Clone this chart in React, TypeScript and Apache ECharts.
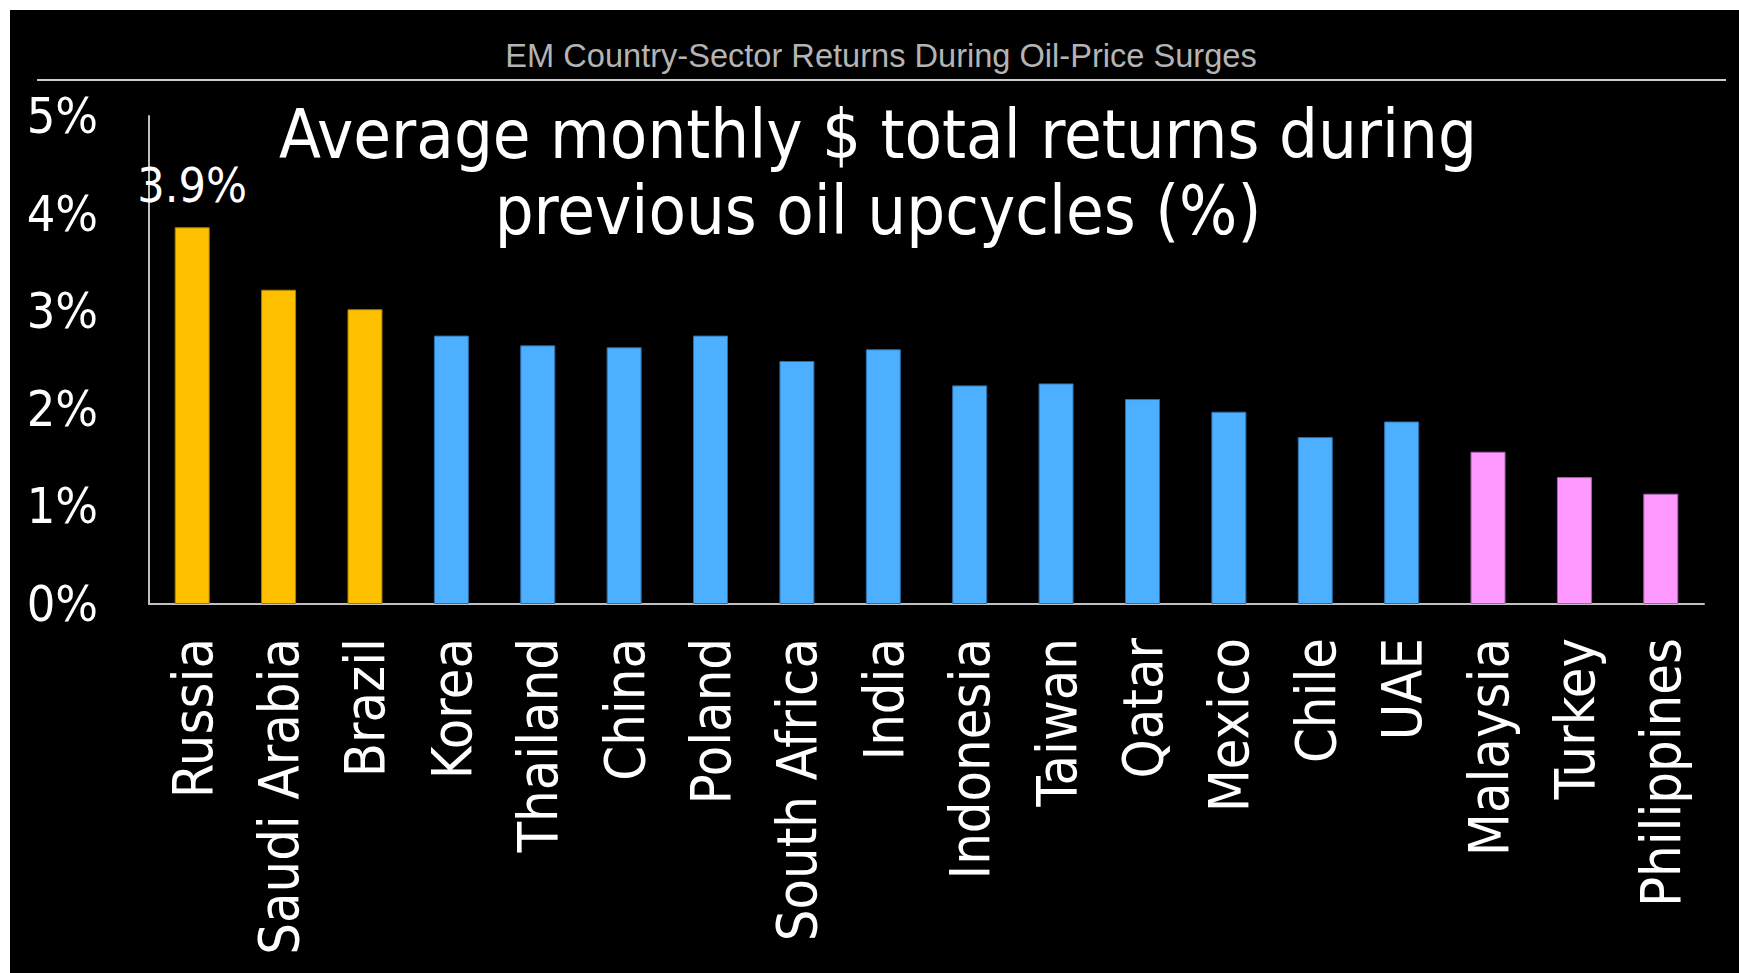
import React, { useEffect, useRef } from "react";
import * as echarts from "echarts";

const categories = [
  "Russia", "Saudi Arabia", "Brazil", "Korea", "Thailand", "China", "Poland",
  "South Africa", "India", "Indonesia", "Taiwan", "Qatar", "Mexico", "Chile",
  "UAE", "Malaysia", "Turkey", "Philippines",
];
const returnsPct = [
  3.86, 3.22, 3.02, 2.75, 2.65, 2.63, 2.75, 2.49, 2.61, 2.24, 2.26, 2.1, 1.97,
  1.71, 1.87, 1.56, 1.3, 1.13,
];
const groups = [
  "top", "top", "top", "mid", "mid", "mid", "mid", "mid", "mid", "mid", "mid",
  "mid", "mid", "mid", "mid", "low", "low", "low",
];
const labelledCategories = ["Russia"];
const yTicks = [0, 1, 2, 3, 4, 5];

const headerText = "EM Country-Sector Returns During Oil-Price Surges";
const titleLines = ["Average monthly $ total returns during", "previous oil upcycles (%)"];

const groupFill: Record<string, string> = { top: "#FFC000", mid: "#4DAFFF", low: "#FF99FF" };
const groupEdge: Record<string, string> = { top: "#A87E00", mid: "#2E6FA8", low: "#A862A8" };

const FONT = "'DejaVu Sans Condensed', 'DejaVu Sans', sans-serif";

export default function App() {
  const ref = useRef<HTMLDivElement>(null);
  useEffect(() => {
    if (!ref.current) return;
    const chart = echarts.init(ref.current, undefined, { renderer: "svg" });
    const data = returnsPct.map((v, i) => ({
      value: v,
      itemStyle: {
        color: groupFill[groups[i]],
        borderColor: groupEdge[groups[i]],
        borderWidth: 1,
      },
      label: labelledCategories.includes(categories[i])
        ? {
            show: true,
            position: "top",
            distance: 18,
            color: "#ffffff",
            fontFamily: FONT,
            fontSize: 48,
            formatter: (p: any) => `${Number(p.value).toFixed(1)}%`,
          }
        : { show: false },
    }));
    chart.setOption({
      animation: false,
      backgroundColor: "#000000",
      grid: { left: 139, right: 35, top: 106, bottom: 369, containLabel: false },
      xAxis: {
        type: "category",
        data: categories,
        axisLine: { show: true, lineStyle: { color: "#c0c0c0", width: 2 } },
        axisTick: { show: false },
        axisLabel: {
          interval: 0,
          rotate: 90,
          margin: 34,
          color: "#ffffff",
          fontFamily: FONT,
          fontSize: 55.5,
        },
      },
      yAxis: {
        type: "value",
        min: yTicks[0],
        max: yTicks[yTicks.length - 1],
        interval: 1,
        splitLine: { show: false },
        axisTick: { show: false },
        axisLine: { show: true, lineStyle: { color: "#c0c0c0", width: 2 } },
        axisLabel: {
          margin: 51,
          color: "#ffffff",
          fontFamily: FONT,
          fontSize: 50,
          formatter: (v: number) => `${v}%`,
        },
      },
      series: [
        {
          type: "bar",
          data,
          barWidth: 35,
        },
      ],
      graphic: [
        {
          type: "text",
          x: 871,
          y: 45,
          style: {
            text: headerText,
            fill: "#b4b4b4",
            font: "32.6px 'Liberation Sans', Arial, sans-serif",
            align: "center",
            verticalAlign: "middle",
          },
        },
        {
          type: "line",
          shape: { x1: 27, y1: 70, x2: 1716, y2: 70 },
          style: { stroke: "#cccccc", lineWidth: 2 },
        },
        {
          type: "text",
          x: 868,
          y: 124,
          style: {
            text: titleLines[0],
            fill: "#ffffff",
            font: `68.2px ${FONT}`,
            align: "center",
            verticalAlign: "middle",
          },
        },
        {
          type: "text",
          x: 868,
          y: 200,
          style: {
            text: titleLines[1],
            fill: "#ffffff",
            font: `68.2px ${FONT}`,
            align: "center",
            verticalAlign: "middle",
          },
        },
      ],
    });
    return () => chart.dispose();
  }, []);
  return (
    <div
      ref={ref}
      style={{
        position: "fixed",
        left: 10,
        top: 10,
        width: 1729,
        height: 963,
        background: "#000000",
      }}
    />
  );
}
